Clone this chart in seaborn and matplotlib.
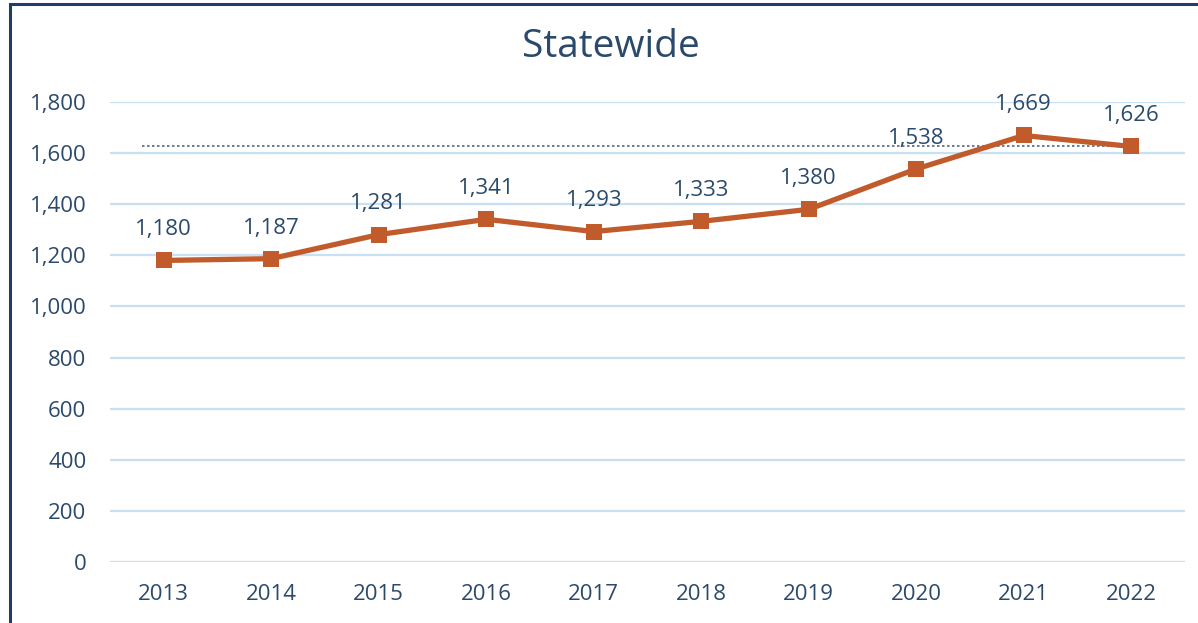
import pandas as pd
import matplotlib.pyplot as plt
import seaborn as sns
from matplotlib.patches import Rectangle

# --- Дані ---
years = ["2013", "2014", "2015", "2016", "2017", "2018", "2019", "2020", "2021", "2022"]
values = [1180, 1187, 1281, 1341, 1293, 1333, 1380, 1538, 1669, 1626]
ref_value = 1626
y_ticks = [0, 200, 400, 600, 800, 1000, 1200, 1400, 1600, 1800]

LINE_COLOR = "#C25B2C"
TEXT_COLOR = "#2B4A6B"
GRID_COLOR = "#C8E0F4"
FRAME_COLOR = "#1B3F66"

sns.set_theme(style="white")
plt.rcParams['font.family'] = ['Open Sans', 'DejaVu Sans']

df = pd.DataFrame({"year": years, "value": values})

fig = plt.figure(figsize=(11.98, 6.23), dpi=100)
ax = fig.add_axes([110 / 1198, 1 - 562 / 623, 1075 / 1198, 460 / 623])

# сітка
for t in y_ticks:
    ax.axhline(t, color=GRID_COLOR, lw=1.6, zorder=0)

# пунктирна лінія останнього значення
ax.hlines(ref_value, -0.2, len(years) - 1, colors="#56687C", linestyles=(0, (1.5, 1.5)), lw=1.2, zorder=1)

sns.lineplot(data=df, x="year", y="value", ax=ax, color=LINE_COLOR, lw=3.8,
             marker="s", markersize=11, markeredgewidth=0, sort=False, zorder=3)

for i, v in enumerate(values):
    ax.annotate(f"{v:,}", (i, v), xytext=(0, 14.5), textcoords="offset points",
                ha="center", va="bottom", fontsize=16, color=TEXT_COLOR)

ax.set_xlim(-0.5, len(years) - 0.5)
ax.set_ylim(0, 1800)
ax.set_yticks(y_ticks)
ax.set_yticklabels([f"{t:,}" for t in y_ticks])
ax.set_xlabel("")
ax.set_ylabel("")
ax.tick_params(axis="y", length=0, pad=17, labelsize=16, labelcolor=TEXT_COLOR)
ax.tick_params(axis="x", length=0, pad=16, labelsize=16, labelcolor=TEXT_COLOR)
sns.despine(ax=ax, left=True, bottom=True)
ax.grid(False)

fig.text(611 / 1198, 1 - 47 / 623, "Statewide", ha="center", va="center",
         fontsize=28, color=TEXT_COLOR)

# рамка
fig.patches.append(Rectangle((9.5 / 1198, -0.1), 1.2, 1.1 - 4.5 / 623, transform=fig.transFigure,
                             fill=False, edgecolor=FRAME_COLOR, lw=2.2))

fig.savefig("out.png", dpi=100)
